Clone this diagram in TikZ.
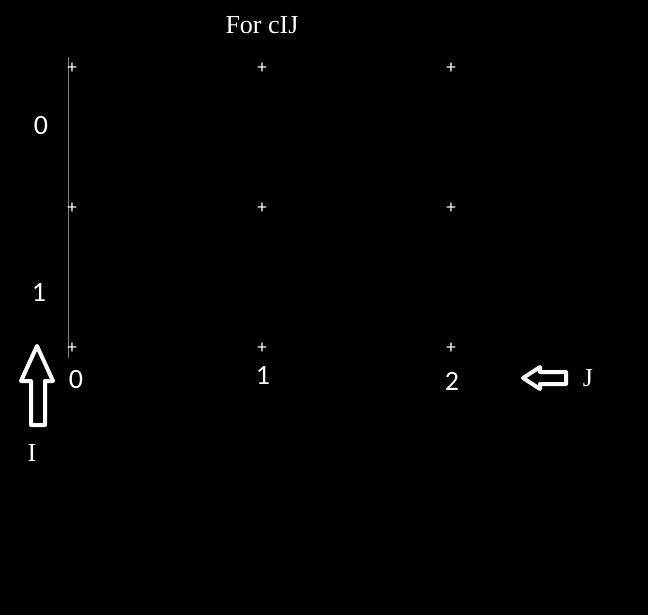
\documentclass[tikz,border=0pt]{standalone}
\usepackage{fontspec}
\setmainfont{Liberation Serif}
\newfontfamily\digitfont{Carlito}
\begin{document}
\begin{tikzpicture}[x=1pt,y=-1pt,
  every node/.style={text=white,inner sep=0pt},
  digit/.style={font=\digitfont\fontsize{28}{28}\selectfont},
  cross/.style={font=\digitfont\fontsize{19}{19}\selectfont},
  letter/.style={font=\fontsize{26}{26}\selectfont},
  hollow/.style={draw=white,line width=4pt,line join=round}]
\fill[black] (0,0) rectangle (648,615);
\useasboundingbox (0,0) rectangle (648,615);

\node[letter] (title) at (262,25) {For cIJ};

% axis line
\coordinate (top) at (68,57);
\coordinate (bot) at (68,358);
\draw[gray,line width=1pt] (top) -- (bot);

% grid marks
\foreach \x [count=\i from 0] in {72,262,451} {
  \foreach \y [count=\j from 0] in {68,208,348} {
    \node[cross] (p\i\j) at (\x,\y) {+};
  }
}

% row labels
\node[digit] (r0) at (41,126) {0};
\node[digit] (r1) at (39,292) {1};

% column labels
\node[digit] (c0) at (76,380) {0};
\node[digit] (c1) at (263,375) {1};
\node[digit] (c2) at (452,381) {2};

% direction arrows
\draw[hollow] (37,346) -- (53,381) -- (45,381) -- (45,425) -- (31,425) -- (31,381) -- (21,381) -- cycle;
\node[letter] (I) at (32,453) {I};
\draw[hollow] (523,378) -- (540,367) -- (540,372) -- (566,372) -- (566,384) -- (540,384) -- (540,389) -- cycle;
\node[letter] (J) at (588,378) {J};
\end{tikzpicture}
\end{document}
